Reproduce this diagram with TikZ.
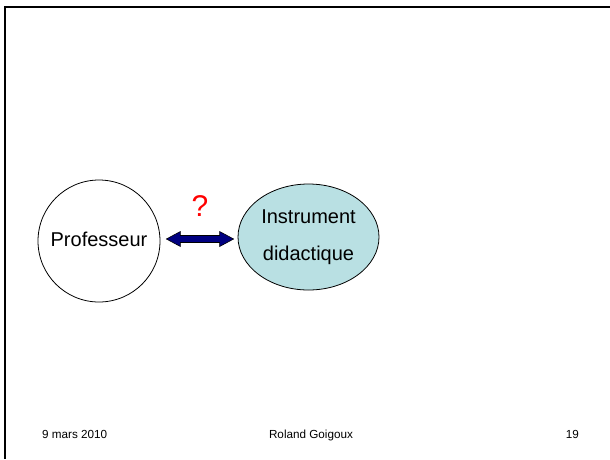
\documentclass[tikz,border=0pt]{standalone}
\usepackage{fontspec}
\setmainfont{Liberation Sans}
\usetikzlibrary{calc,shapes.geometric}
\definecolor{navyarrow}{RGB}{0,0,128}
\definecolor{instrfill}{RGB}{185,224,227}
\begin{document}
\begin{tikzpicture}[x=1pt, y=-1pt,
  foot/.style={inner sep=0pt, font=\fontsize{11.7}{14}\selectfont},
  biarrow/.style={to path={let \p1=(\tikztostart), \p2=(\tikztotarget) in
    (\x1+6pt,\y1+2pt) -- (\x1+20pt,\y1+9.5pt) -- (\x1+20pt,\y1+5.5pt)
    -- (\x2-18pt,\y1+5.5pt) -- (\x2-18pt,\y1+9.5pt) -- (\x2-4pt,\y1+2pt)
    -- (\x2-18pt,\y1-5.5pt) -- (\x2-18pt,\y1-1.5pt) -- (\x1+20pt,\y1-1.5pt)
    -- (\x1+20pt,\y1-5.5pt) -- cycle}}]
\useasboundingbox (0,0) rectangle (610,459);
% slide frame
\draw[line width=2pt] (610,7) -- (5,7) -- (5,459);
\node[circle, draw, line width=0.8pt, minimum size=122pt, inner sep=0pt, font=\fontsize{20}{24}\selectfont] (prof) at (99,241){\raisebox{4pt}{Professeur}};
\node[ellipse, draw, line width=0.8pt, fill=instrfill, minimum width=141pt, minimum height=106pt, inner sep=0pt, align=center, font=\fontsize{20}{36.7}\selectfont] (instr) at (308.5,237){Instrument\\didactique};
\node[red, inner sep=0pt, font=\fontsize{30}{32}\selectfont] (quest) at (200,206){?};
\draw[biarrow, fill=navyarrow, draw=black, line width=0.6pt](prof.east) to (instr.west);
% footer
\node[foot, anchor=base west] (date) at (42,438){9 mars 2010};
\node[foot, anchor=base] (auteur) at (311,438){Roland Goigoux};
\node[foot, anchor=base east] (page) at (579,438){19};
\end{tikzpicture}
\end{document}
